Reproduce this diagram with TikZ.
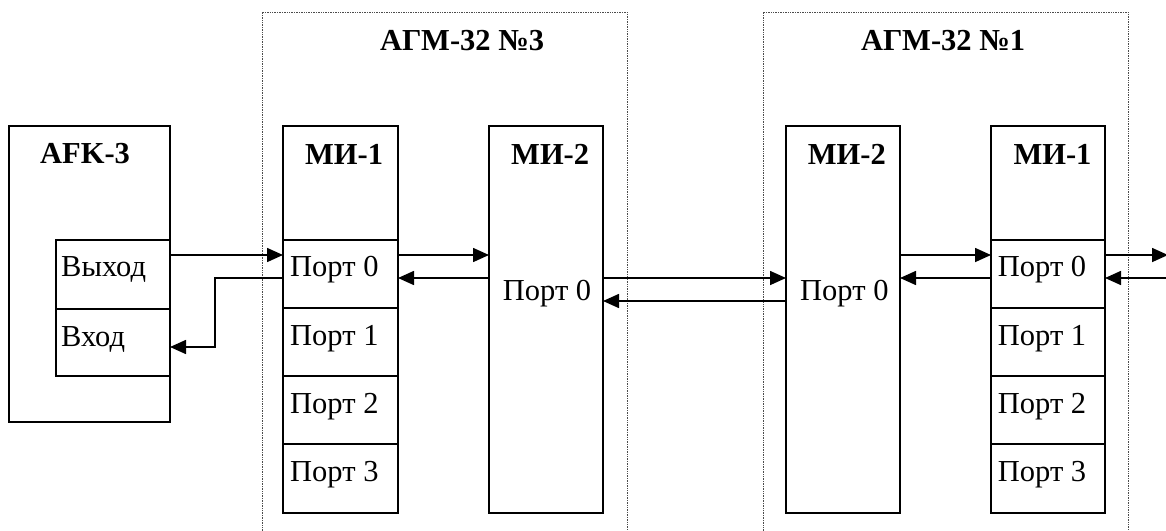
\documentclass[tikz,border=0pt]{standalone}
\usepackage{fontspec}
\setmainfont{Liberation Serif}
\usetikzlibrary{arrows.meta,calc}
\begin{document}
\begin{tikzpicture}[x=1pt,y=-1pt,
  box/.style={draw,line width=1.4pt,anchor=north west,inner sep=0,outer sep=0},
  grp/.style={draw=black!70,densely dotted,line width=0.7pt,anchor=north west,inner sep=0,outer sep=0},
  lbl/.style={anchor=base west,inner sep=0,font=\fontsize{30.5}{36}\selectfont},
  ttl/.style={anchor=base west,inner sep=0,font=\fontsize{30.5}{36}\selectfont\bfseries},
  arr/.style={line width=1.6pt,-{Triangle[length=16pt,width=14pt]}}
]
\useasboundingbox (0,0) rectangle (1166,530);
% groups
\node[grp,minimum width=365,minimum height=530] (g3) at (262,12) {};
\node[grp,minimum width=365,minimum height=530] (g1) at (763,12) {};
\node[ttl] (t3) at (380,50) {АГМ-32 №3};
\node[ttl] (t1) at (861,50) {АГМ-32 №1};
% AFK-3
\node[box,minimum width=161,minimum height=296] (afk) at (9,126) {};
\node[ttl] (tafk) at (40,163.5) {AFK-3};
\node[box,minimum width=114,minimum height=69] (vyhod) at (56,240) {};
\node[box,minimum width=114,minimum height=67] (vhod) at (56,309) {};
\node[lbl] (tvyhod) at (61,276.7) {Выход};
\node[lbl] (tvhod) at (61,346.7) {Вход};
% group 3: MI-1
\node[box,minimum width=115,minimum height=387] (mi1a) at (283,126) {};
\node[ttl] (tmi1a) at (305,164.3) {МИ-1};
\node[box,minimum width=115,minimum height=68] (a0) at (283,240) {};
\node[box,minimum width=115,minimum height=68] (a1) at (283,308) {};
\node[box,minimum width=115,minimum height=68] (a2) at (283,376) {};
\node[box,minimum width=115,minimum height=69] (a3) at (283,444) {};
\node[lbl] (ta0) at (290,276.7) {Порт 0};
\node[lbl] (ta1) at (290,345) {Порт 1};
\node[lbl] (ta2) at (290,413.3) {Порт 2};
\node[lbl] (ta3) at (290,481.7) {Порт 3};
% group 3: MI-2
\node[box,minimum width=114,minimum height=387] (mi2a) at (489,126) {};
\node[ttl] (tmi2a) at (511,164.3) {МИ-2};
\node[lbl] (pmi2a) at (502.7,300) {Порт 0};
% group 1: MI-2
\node[box,minimum width=114,minimum height=387] (mi2b) at (786,126) {};
\node[ttl] (tmi2b) at (807.7,164.3) {МИ-2};
\node[lbl] (pmi2b) at (800,300) {Порт 0};
% group 1: MI-1
\node[box,minimum width=114,minimum height=387] (mi1b) at (991,126) {};
\node[ttl] (tmi1b) at (1013.3,164.3) {МИ-1};
\node[box,minimum width=114,minimum height=68] (b0) at (991,240) {};
\node[box,minimum width=114,minimum height=68] (b1) at (991,308) {};
\node[box,minimum width=114,minimum height=68] (b2) at (991,376) {};
\node[box,minimum width=114,minimum height=69] (b3) at (991,444) {};
\node[lbl] (tb0) at (997.7,276.7) {Порт 0};
\node[lbl] (tb1) at (997.7,345) {Порт 1};
\node[lbl] (tb2) at (997.7,413.3) {Порт 2};
\node[lbl] (tb3) at (997.7,481.7) {Порт 3};
% levels
\coordinate (yA) at (0,255);
\coordinate (yB) at (0,278);
\coordinate (yC) at (0,301);
\coordinate (xK) at (215,0);
\coordinate (outR) at (1168,0);
\coordinate (inR) at (1180,0);
% connectors
\draw[arr] (vyhod.east |- yA) -- (a0.west |- yA);
\draw[arr] (a0.west |- yB) -- (xK |- yB) |- ($(vhod.north east)+(0,38)$);
\draw[arr] (a0.east |- yA) -- (mi2a.west |- yA);
\draw[arr] (mi2a.west |- yB) -- (a0.east |- yB);
\draw[arr] (mi2a.east |- yB) -- (mi2b.west |- yB);
\draw[arr] (mi2b.west |- yC) -- (mi2a.east |- yC);
\draw[arr] (mi2b.east |- yA) -- (b0.west |- yA);
\draw[arr] (b0.west |- yB) -- (mi2b.east |- yB);
\draw[arr] (b0.east |- yA) -- (outR |- yA);
\draw[arr] (inR |- yB) -- (b0.east |- yB);
\end{tikzpicture}
\end{document}
